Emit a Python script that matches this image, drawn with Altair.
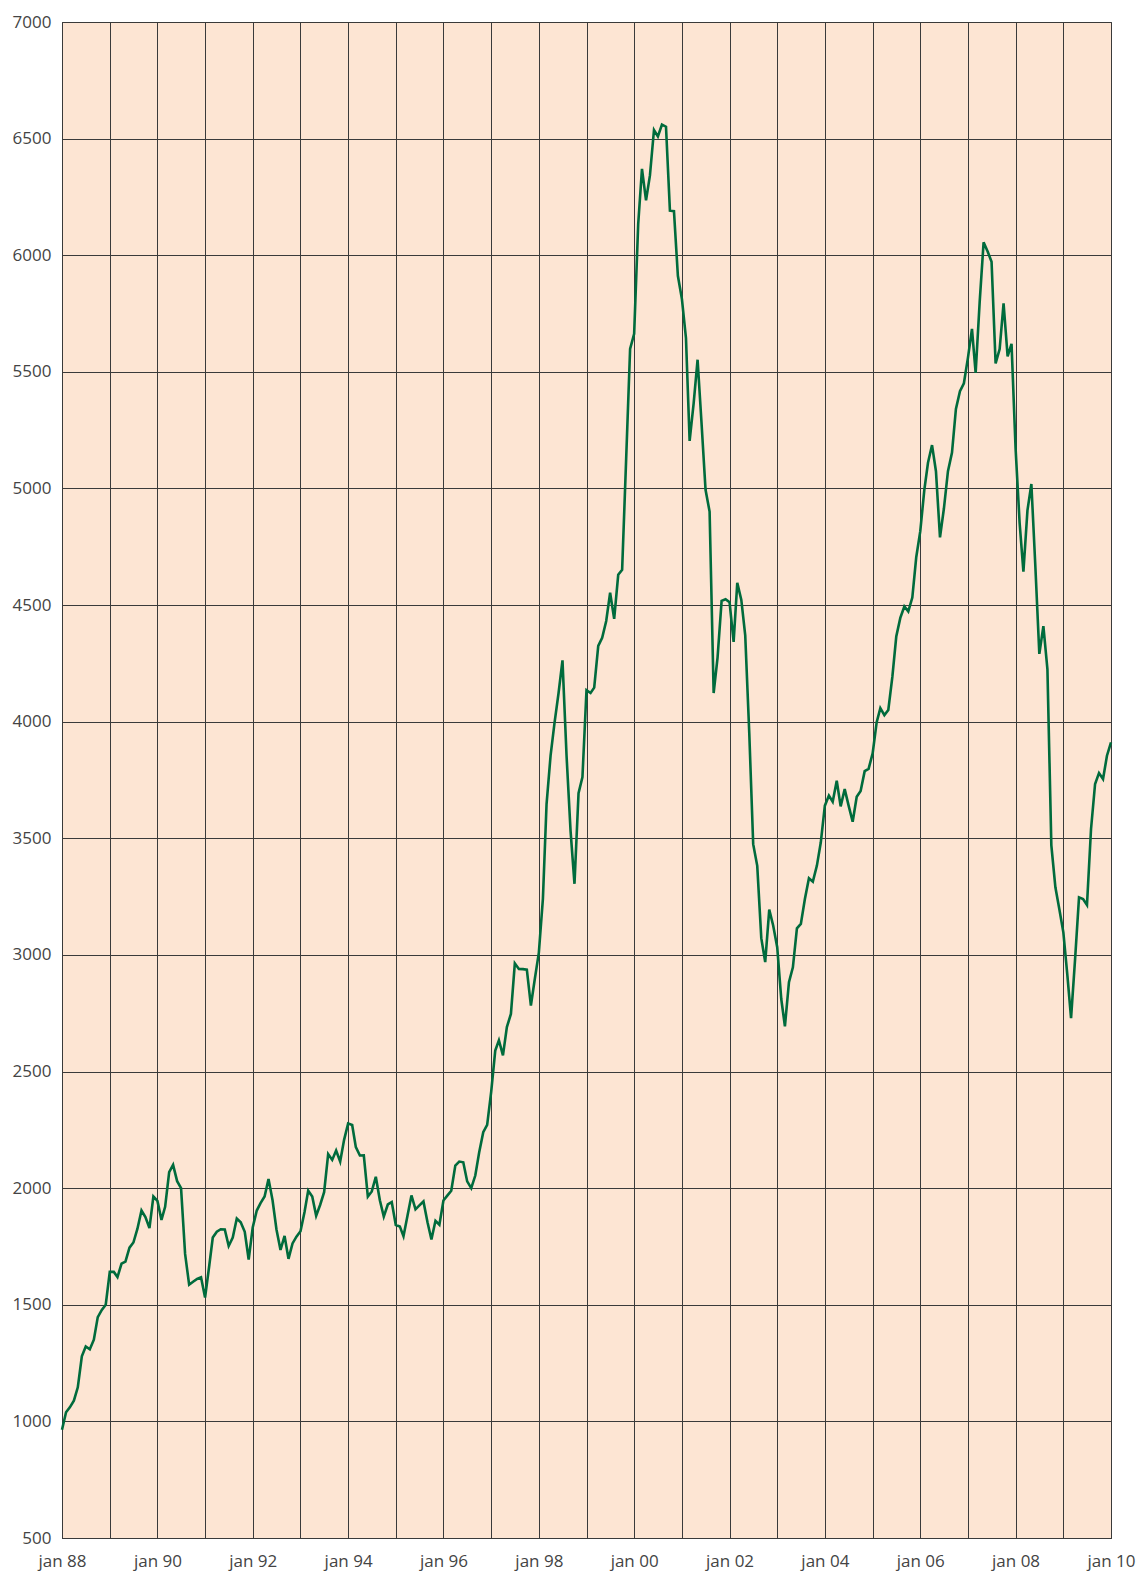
import altair as alt
import pandas as pd

# Monthly index values, jan 1988 .. jan 2010
values = [
    964, 1039, 1060, 1089, 1146, 1279, 1321, 1309, 1350, 1447, 1478, 1500,
    1641, 1641, 1619, 1676, 1685, 1745, 1767, 1826, 1904, 1876, 1829, 1964,
    1945, 1864, 1920, 2069, 2100, 2030, 2000, 1718, 1586, 1599, 1611, 1618,
    1531, 1663, 1788, 1813, 1824, 1823, 1752, 1788, 1870, 1854, 1813, 1694,
    1831, 1904, 1936, 1964, 2039, 1948, 1823, 1735, 1795, 1697, 1763, 1792,
    1815, 1898, 1989, 1964, 1882, 1929, 1983, 2146, 2121, 2161, 2114, 2207,
    2277, 2271, 2176, 2140, 2141, 1964, 1986, 2049, 1948, 1878, 1930, 1940,
    1842, 1836, 1794, 1883, 1969, 1909, 1926, 1943, 1854, 1780, 1860, 1843,
    1947, 1969, 1989, 2097, 2114, 2111, 2029, 2000, 2054, 2154, 2240, 2271,
    2414, 2590, 2634, 2569, 2691, 2747, 2964, 2940, 2939, 2937, 2783, 2897,
    3010, 3240, 3647, 3856, 3995, 4123, 4263, 3856, 3531, 3305, 3693, 3763,
    4135, 4123, 4146, 4325, 4360, 4432, 4553, 4441, 4630, 4651, 5130, 5598,
    5663, 6133, 6370, 6235, 6342, 6537, 6509, 6560, 6551, 6191, 6189, 5912,
    5812, 5645, 5204, 5366, 5552, 5273, 4994, 4901, 4123, 4275, 4518, 4525,
    4512, 4342, 4595, 4522, 4370, 3950, 3475, 3382, 3072, 2969, 3194, 3126,
    3033, 2811, 2694, 2883, 2947, 3114, 3133, 3240, 3329, 3314, 3383, 3483,
    3640, 3683, 3657, 3747, 3637, 3711, 3640, 3571, 3678, 3703, 3788, 3798,
    3864, 3998, 4058, 4028, 4050, 4192, 4365, 4445, 4494, 4473, 4532, 4705,
    4817, 4994, 5110, 5186, 5074, 4790, 4914, 5074, 5154, 5341, 5417, 5451,
    5560, 5684, 5495, 5800, 6055, 6016, 5972, 5536, 5598, 5794, 5566, 5620,
    5172, 4852, 4643, 4906, 5019, 4660, 4291, 4410, 4224, 3470, 3290, 3197,
    3097, 2911, 2729, 2983, 3247, 3240, 3214, 3540, 3733, 3780, 3754, 3854,
    3911,
]

dates = pd.date_range("1988-01-01", periods=len(values), freq="MS").strftime("%Y-%m-%d")
df = pd.DataFrame({"date": list(dates), "value": values})

years = list(range(1988, 2011))
year_ms = [int(pd.Timestamp(f"{y}-01-01", tz="UTC").timestamp() * 1000) for y in years]
y_ticks = list(range(500, 7001, 500))

FONT = "Open Sans"
GRID = "#3a3a3a"
LABEL = "#444444"

chart = alt.Chart(df).mark_line(color="#006B3C", strokeWidth=2.6).encode(
    x=alt.X(
        "date:T",
        scale=alt.Scale(type="utc", domain=[year_ms[0], year_ms[-1]], nice=False),
        axis=alt.Axis(
            values=year_ms,
            labelExpr="utcyear(datum.value) % 2 == 0 ? 'jan ' + utcFormat(datum.value, '%y') : ''",
            title=None,
            grid=True,
            gridColor=GRID,
            gridWidth=1,
            ticks=False,
            domainColor=GRID,
            labelPadding=15,
            labelFont=FONT,
            labelFontSize=17,
            labelColor=LABEL,
            labelOverlap=False,
            labelFlush=False,
            labelBound=False,
        ),
    ),
    y=alt.Y(
        "value:Q",
        scale=alt.Scale(domain=[500, 7000], nice=False, zero=False),
        axis=alt.Axis(
            values=y_ticks,
            format="d",
            title=None,
            grid=True,
            gridColor=GRID,
            gridWidth=1,
            ticks=False,
            domainColor=GRID,
            labelPadding=11,
            labelFont=FONT,
            labelFontSize=17,
            labelColor=LABEL,
            labelOverlap=False,
            labelFlush=False,
            labelBound=False,
        ),
    ),
).properties(
    width=1049,
    height=1516,
    background="white",
    padding={"left": 54, "top": 14, "right": 26, "bottom": 36},
    autosize=alt.AutoSizeParams(type="none"),
).configure_view(fill="#FDE5D3", stroke=GRID)

chart.save("out.html", embed_options={"renderer": "svg", "actions": False})
